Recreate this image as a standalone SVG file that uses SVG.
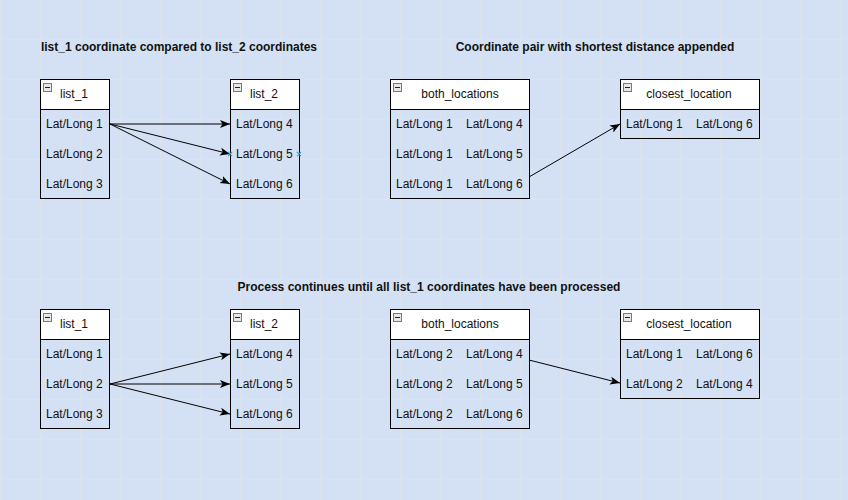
<svg xmlns="http://www.w3.org/2000/svg" width="848" height="500" viewBox="0 0 848 500">
<defs>
<pattern id="grid" x="0" y="-1" width="40" height="40" patternUnits="userSpaceOnUse">
<path d="M0.5 0 V40 M0 0.5 H40" fill="none" stroke="#dde3ec" stroke-width="1"/>
</pattern>
<marker id="arr" viewBox="0 0 10 10" refX="10" refY="5" markerWidth="10" markerHeight="10" markerUnits="userSpaceOnUse" orient="auto">
<path d="M0 1 L10 5 L0 9 L2.5 5 Z" fill="#000"/>
</marker>
<g id="icon">
<rect x="0.5" y="0.5" width="8" height="8" fill="#e6e6e6" stroke="#7a7a7a"/>
<path d="M2 4.5 H7" stroke="#222" stroke-width="1"/>
</g>
</defs>
<style>
text{font-family:"Liberation Sans",Arial,sans-serif;font-size:12px;fill:#111}
.title{font-weight:bold;text-anchor:middle}
.hdr{text-anchor:middle}
.box{fill:none;stroke:#000;stroke-width:1}
.head{fill:#fff;stroke:#000;stroke-width:1}
.edge{fill:none;stroke:#000;stroke-width:1;marker-end:url(#arr)}
.pt{stroke:#29a8e0;stroke-width:1.2}
</style>
<rect width="848" height="500" fill="#d4e1f4"/>
<rect width="848" height="500" fill="url(#grid)"/>

<text class="title" x="179" y="51">list_1 coordinate compared to list_2 coordinates</text>
<text class="title" x="595" y="51">Coordinate pair with shortest distance appended</text>
<text class="title" x="429" y="291">Process continues until all list_1 coordinates have been processed</text>

<g id="list1_top">
<rect class="box" x="40.5" y="79.5" width="69" height="119"/>
<rect class="head" x="40.5" y="79.5" width="69" height="30"/>
<use href="#icon" x="43" y="83"/>
<text x="60" y="98">list_1</text>
<text x="46" y="128">Lat/Long 1</text>
<text x="46" y="158">Lat/Long 2</text>
<text x="46" y="188">Lat/Long 3</text>
</g>
<g id="list2_top">
<rect class="box" x="230.5" y="79.5" width="69" height="119"/>
<rect class="head" x="230.5" y="79.5" width="69" height="30"/>
<use href="#icon" x="233" y="83"/>
<text x="250" y="98">list_2</text>
<text x="236" y="128">Lat/Long 4</text>
<text x="236" y="158">Lat/Long 5</text>
<text x="236" y="188">Lat/Long 6</text>
</g>
<g id="both_top">
<rect class="box" x="390.5" y="79.5" width="139" height="119"/>
<rect class="head" x="390.5" y="79.5" width="139" height="30"/>
<use href="#icon" x="393" y="83"/>
<text class="hdr" x="460" y="98">both_locations</text>
<text x="396" y="128">Lat/Long 1</text><text x="466" y="128">Lat/Long 4</text>
<text x="396" y="158">Lat/Long 1</text><text x="466" y="158">Lat/Long 5</text>
<text x="396" y="188">Lat/Long 1</text><text x="466" y="188">Lat/Long 6</text>
</g>
<g id="closest_top">
<rect class="box" x="620.5" y="79.5" width="139" height="59"/>
<rect class="head" x="620.5" y="79.5" width="139" height="30"/>
<use href="#icon" x="623" y="83"/>
<text class="hdr" x="689" y="98">closest_location</text>
<text x="626" y="128">Lat/Long 1</text><text x="696" y="128">Lat/Long 6</text>
</g>

<g id="list1_bot">
<rect class="box" x="40.5" y="309.5" width="69" height="119"/>
<rect class="head" x="40.5" y="309.5" width="69" height="30"/>
<use href="#icon" x="43" y="313"/>
<text x="60" y="328">list_1</text>
<text x="46" y="358">Lat/Long 1</text>
<text x="46" y="388">Lat/Long 2</text>
<text x="46" y="418">Lat/Long 3</text>
</g>
<g id="list2_bot">
<rect class="box" x="230.5" y="309.5" width="69" height="119"/>
<rect class="head" x="230.5" y="309.5" width="69" height="30"/>
<use href="#icon" x="233" y="313"/>
<text x="250" y="328">list_2</text>
<text x="236" y="358">Lat/Long 4</text>
<text x="236" y="388">Lat/Long 5</text>
<text x="236" y="418">Lat/Long 6</text>
</g>
<g id="both_bot">
<rect class="box" x="390.5" y="309.5" width="139" height="119"/>
<rect class="head" x="390.5" y="309.5" width="139" height="30"/>
<use href="#icon" x="393" y="313"/>
<text class="hdr" x="460" y="328">both_locations</text>
<text x="396" y="358">Lat/Long 2</text><text x="466" y="358">Lat/Long 4</text>
<text x="396" y="388">Lat/Long 2</text><text x="466" y="388">Lat/Long 5</text>
<text x="396" y="418">Lat/Long 2</text><text x="466" y="418">Lat/Long 6</text>
</g>
<g id="closest_bot">
<rect class="box" x="620.5" y="309.5" width="139" height="89"/>
<rect class="head" x="620.5" y="309.5" width="139" height="30"/>
<use href="#icon" x="623" y="313"/>
<text class="hdr" x="689" y="328">closest_location</text>
<text x="626" y="358">Lat/Long 1</text><text x="696" y="358">Lat/Long 6</text>
<text x="626" y="388">Lat/Long 2</text><text x="696" y="388">Lat/Long 4</text>
</g>

<g id="connectors">
<path class="edge" d="M110 124 L230 124"/>
<path class="edge" d="M110 124 L230 154"/>
<path class="edge" d="M110 124 L230 184"/>
<path class="edge" d="M529 177 L620 124"/>
<path class="edge" d="M110 384 L230 354"/>
<path class="edge" d="M110 384 L230 384"/>
<path class="edge" d="M110 384 L230 414"/>
<path class="edge" d="M529 360 L620 383"/>
<path class="pt" d="M228 152 L232 156 M232 152 L228 156 M297 152 L301 156 M301 152 L297 156"/>
</g>
</svg>
